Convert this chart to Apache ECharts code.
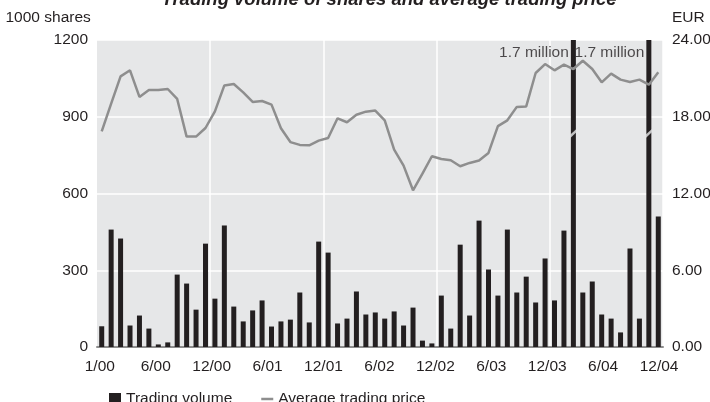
<!DOCTYPE html>
<html>
<head>
<meta charset="utf-8">
<script src="https://cdn.jsdelivr.net/npm/echarts@6/dist/echarts.min.js"></script>
<style>
html,body{margin:0;padding:0;background:#fff;}
#chart{width:710px;height:402px;}
</style>
</head>
<body>
<div id="chart"></div>
<script>
var categories = ['1/00','2/00','3/00','4/00','5/00','6/00','7/00','8/00','9/00','10/00','11/00','12/00',
'1/01','2/01','3/01','4/01','5/01','6/01','7/01','8/01','9/01','10/01','11/01','12/01',
'1/02','2/02','3/02','4/02','5/02','6/02','7/02','8/02','9/02','10/02','11/02','12/02',
'1/03','2/03','3/03','4/03','5/03','6/03','7/03','8/03','9/03','10/03','11/03','12/03',
'1/04','2/04','3/04','4/04','5/04','6/04','7/04','8/04','9/04','10/04','11/04','12/04'];

var tradingVolume = [81,459,424,84,123,72,10,18,283,248,
146,404,189,475,158,100,143,182,80,100,
107,213,96,412,369,92,111,217,127,135,
111,139,84,154,25,14,201,72,400,123,
494,303,201,459,213,275,174,346,182,455,
1700,213,256,127,111,57,385,111,1700,510];

var averagePrice = [16.86,19.02,21.16,21.63,19.55,20.09,20.09,20.17,19.39,16.45,
16.45,17.12,18.42,20.45,20.56,19.91,19.16,19.23,18.95,17.10,
16.02,15.80,15.77,16.13,16.34,17.88,17.57,18.16,18.40,18.48,
17.72,15.43,14.18,12.25,13.55,14.91,14.70,14.60,14.13,14.39,
14.58,15.17,17.27,17.72,18.77,18.81,21.42,22.12,21.63,22.07,
21.73,22.38,21.73,20.69,21.37,20.90,20.72,20.90,20.51,21.47];

var tickLabels = ['1/00','6/00','12/00','6/01','12/01','6/02','12/02','6/03','12/03','6/04','12/04'];

// off-scale bars (1.7 million) and where their break mark sits
var offScaleMonths = ['3/04', '11/04'];
var offScaleLabel = '1.7 million';
var breakValue = 835;
var labelValue = 1150;

var FONT = "'Liberation Sans','Arial',sans-serif";
var TXT = '#231f20';
var FS = 15.5;

var breakData = offScaleMonths.map(function(m){ return [m, breakValue]; });
var annoData = offScaleMonths.map(function(m){ return [m, labelValue]; });

var chart = echarts.init(document.getElementById('chart'), null, {renderer:'canvas'});
chart.setOption({
  animation: false,
  backgroundColor: '#ffffff',
  textStyle: { fontFamily: FONT, color: TXT },
  title: {
    text: 'Trading volume of shares and average trading price',
    left: 384, top: -15, textAlign: 'center',
    textStyle: { fontFamily: FONT, fontSize: 18.5, fontWeight: 'bold', fontStyle: 'italic', color: TXT }
  },
  legend: {
    left: 104, top: 386,
    itemWidth: 12, itemHeight: 12, itemGap: 29,
    symbolKeepAspect: true,
    textStyle: { fontFamily: FONT, fontSize: FS, color: TXT },
    data: [
      { name: 'Trading volume', icon: 'rect' },
      { name: 'Average trading price', icon: 'path://M0,0 L12,0 L12,2.5 L0,2.5 Z', itemStyle: { color: '#8e8e8e' } }
    ]
  },
  grid: {
    left: 97, right: 47, top: 40, bottom: 55,
    containLabel: false, outerBoundsMode: 'none',
    show: true, backgroundColor: '#e6e7e8', borderWidth: 0
  },
  xAxis: [
    {
      type: 'category', data: categories, boundaryGap: true,
      axisLine: { show: true, lineStyle: { color: '#8d8d8d', width: 2 } },
      axisTick: { show: false },
      axisLabel: { show: false },
      splitLine: {
        show: true,
        interval: function (index) { return index > 0 && index % 12 === 0; },
        lineStyle: { color: '#ffffff', width: 1.5 }
      }
    },
    {
      type: 'value', position: 'bottom', min: -0.05, max: 10.07,
      axisLine: { show: false }, axisTick: { show: false }, splitLine: { show: false },
      axisLabel: {
        show: true, margin: 12,
        customValues: [0,1,2,3,4,5,6,7,8,9,10],
        formatter: function (v) { return tickLabels[Math.round(v)]; },
        fontFamily: FONT, fontSize: FS, color: TXT
      }
    }
  ],
  yAxis: [
    {
      type: 'value', min: 0, max: 1200, interval: 300,
      name: '1000 shares', nameLocation: 'end', nameGap: 22,
      nameTextStyle: { fontFamily: FONT, fontSize: FS, color: TXT, align: 'right', verticalAlign: 'middle', padding: [0, 9, 0, 0] },
      axisLine: { show: false }, axisTick: { show: false },
      axisLabel: { margin: 9, fontFamily: FONT, fontSize: FS, color: TXT, formatter: function (v) { return String(v); } },
      splitLine: { show: true, lineStyle: { color: '#ffffff', width: 1.5 } }
    },
    {
      type: 'value', min: 0, max: 24, interval: 6,
      name: 'EUR', nameLocation: 'end', nameGap: 22,
      nameTextStyle: { fontFamily: FONT, fontSize: FS, color: TXT, align: 'left', verticalAlign: 'middle', padding: [0, 0, 0, 9] },
      axisLine: { show: false }, axisTick: { show: false },
      axisLabel: { margin: 9, fontFamily: FONT, fontSize: FS, color: TXT, formatter: function (v) { return v.toFixed(2); } },
      splitLine: { show: false }
    }
  ],
  series: [
    {
      name: 'Trading volume', type: 'bar', xAxisIndex: 0, yAxisIndex: 0,
      data: tradingVolume, barWidth: 5, clip: true,
      itemStyle: { color: '#231f20' }, z: 3
    },
    {
      name: 'Average trading price', type: 'line', xAxisIndex: 0, yAxisIndex: 1,
      data: averagePrice, symbol: 'none', smooth: false,
      lineStyle: { color: '#8e8e8e', width: 2.5 }, itemStyle: { color: '#8e8e8e' }, z: 4
    },
    {
      name: 'break', type: 'scatter', xAxisIndex: 0, yAxisIndex: 0,
      data: breakData, symbol: 'path://M0,7 L6,0 L6,4 L0,11 Z', symbolSize: [6, 9],
      itemStyle: { color: '#e6e7e8' }, z: 5, silent: true
    },
    {
      name: 'annotation', type: 'scatter', xAxisIndex: 0, yAxisIndex: 0,
      data: annoData, symbolSize: 0.1, itemStyle: { color: 'rgba(0,0,0,0)' },
      label: { show: true, position: 'left', distance: 4.5, formatter: function(){ return offScaleLabel; },
               fontFamily: FONT, fontSize: FS, color: TXT },
      z: 6, silent: true
    }
  ]
});
</script>
</body>
</html>
